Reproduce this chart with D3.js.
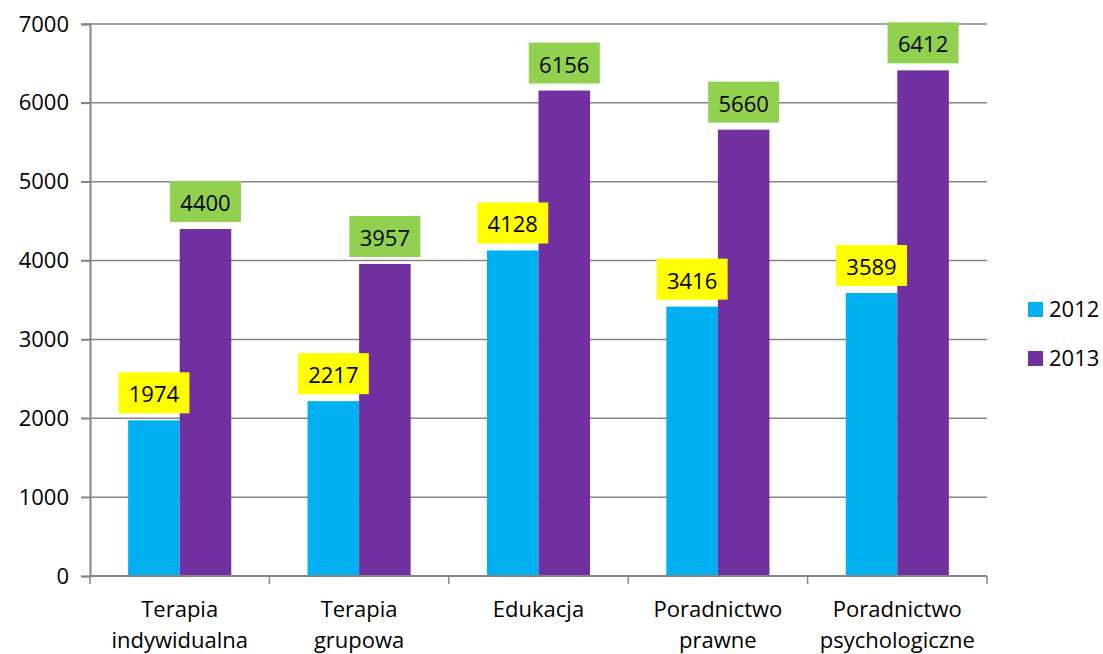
<!DOCTYPE html>
<html><head><meta charset="utf-8">
<script src="https://cdn.jsdelivr.net/npm/d3@7"></script>
<style>body{margin:0;background:#fff}svg{display:block}text{font-family:"Open Sans",Lato,sans-serif;fill:#000}</style>
</head><body>
<script>
const categories = [["Terapia","indywidualna"],["Terapia","grupowa"],["Edukacja"],["Poradnictwo","prawne"],["Poradnictwo","psychologiczne"]];
const seriesNames = ["2012","2013"];
const values2012 = [1974, 2217, 4128, 3416, 3589];
const values2013 = [4400, 3957, 6156, 5660, 6412];
const yTicks = [0,1000,2000,3000,4000,5000,6000,7000];

const W=1103,H=654;
const m={l:90,r:116,t:24,b:78};
const FS=22;
const colors=["#00B0F0","#7030A0"];
const labelFill=["#FFFF00","#92D050"];
const svg=d3.select("body").append("svg").attr("width",W).attr("height",H);
const x=d3.scaleBand().domain(d3.range(categories.length)).range([m.l,W-m.r]).paddingInner(0).paddingOuter(0);
const xs=d3.scaleBand().domain([0,1]).range([0,x.bandwidth()]).paddingInner(0).paddingOuter(0.74);
const y=d3.scaleLinear().domain([0,7000]).range([H-m.b,m.t]);
const grid="#868686";

// gridlines
svg.append("g").selectAll("line").data(yTicks.slice(1)).join("line")
 .attr("x1",m.l-9).attr("x2",W-m.r).attr("y1",d=>y(d)).attr("y2",d=>y(d))
 .attr("stroke",grid).attr("stroke-width",1.5);
// y axis
const ya=svg.append("g").attr("transform",`translate(${m.l},0)`).call(d3.axisLeft(y).tickValues(yTicks).tickSize(9).tickPadding(12).tickFormat(d3.format("d")));
ya.select(".domain").attr("stroke",grid).attr("stroke-width",2);
ya.selectAll(".tick line").attr("stroke",grid).attr("stroke-width",1.5);
ya.selectAll("text").attr("font-size",FS).attr("font-family","'Open Sans'").attr("fill","#000");

const series=[values2012,values2013];
series.forEach((vals,si)=>{
  svg.append("g").selectAll("rect").data(vals).join("rect")
   .attr("x",(d,i)=>x(i)+xs(si)).attr("width",xs.bandwidth())
   .attr("y",d=>y(d)).attr("height",d=>y(0)-y(d)).attr("fill",colors[si]);
});
// x axis
const xa=svg.append("g");
xa.append("line").attr("x1",m.l).attr("x2",W-m.r).attr("y1",y(0)).attr("y2",y(0)).attr("stroke",grid).attr("stroke-width",2);
const bounds=d3.range(categories.length+1).map(i=>i<categories.length?x(i):x(categories.length-1)+x.bandwidth());
xa.selectAll("line.t").data(bounds).join("line").attr("class","t")
 .attr("x1",d=>d).attr("x2",d=>d).attr("y1",y(0)).attr("y2",y(0)+8).attr("stroke",grid).attr("stroke-width",1.5);
categories.forEach((c,i)=>{
  const t=svg.append("text").attr("text-anchor","middle").attr("font-size",FS).attr("x",x(i)+x.bandwidth()/2).attr("y",H-m.b+41);
  c.forEach((line,li)=>t.append("tspan").attr("x",x(i)+x.bandwidth()/2).attr("dy",li?31:0).text(line));
});
// data labels
series.forEach((vals,si)=>{
  const g=svg.append("g");
  vals.forEach((v,i)=>{
    const cx=x(i)+xs(si)+xs.bandwidth()/2, by=y(v)-7;
    g.append("rect").attr("x",cx-35.5).attr("y",by-41).attr("width",71).attr("height",41).attr("fill",labelFill[si]);
    g.append("text").attr("x",cx).attr("y",by-11).attr("text-anchor","middle").attr("font-size",FS).text(v);
  });
});
// legend
seriesNames.forEach((s,i)=>{
  const ly=302+i*49;
  svg.append("rect").attr("x",1028).attr("y",ly).attr("width",15).attr("height",15).attr("fill",colors[i]);
  svg.append("text").attr("x",1049).attr("y",ly+15).attr("font-size",FS).text(s);
});
</script>
</body></html>
